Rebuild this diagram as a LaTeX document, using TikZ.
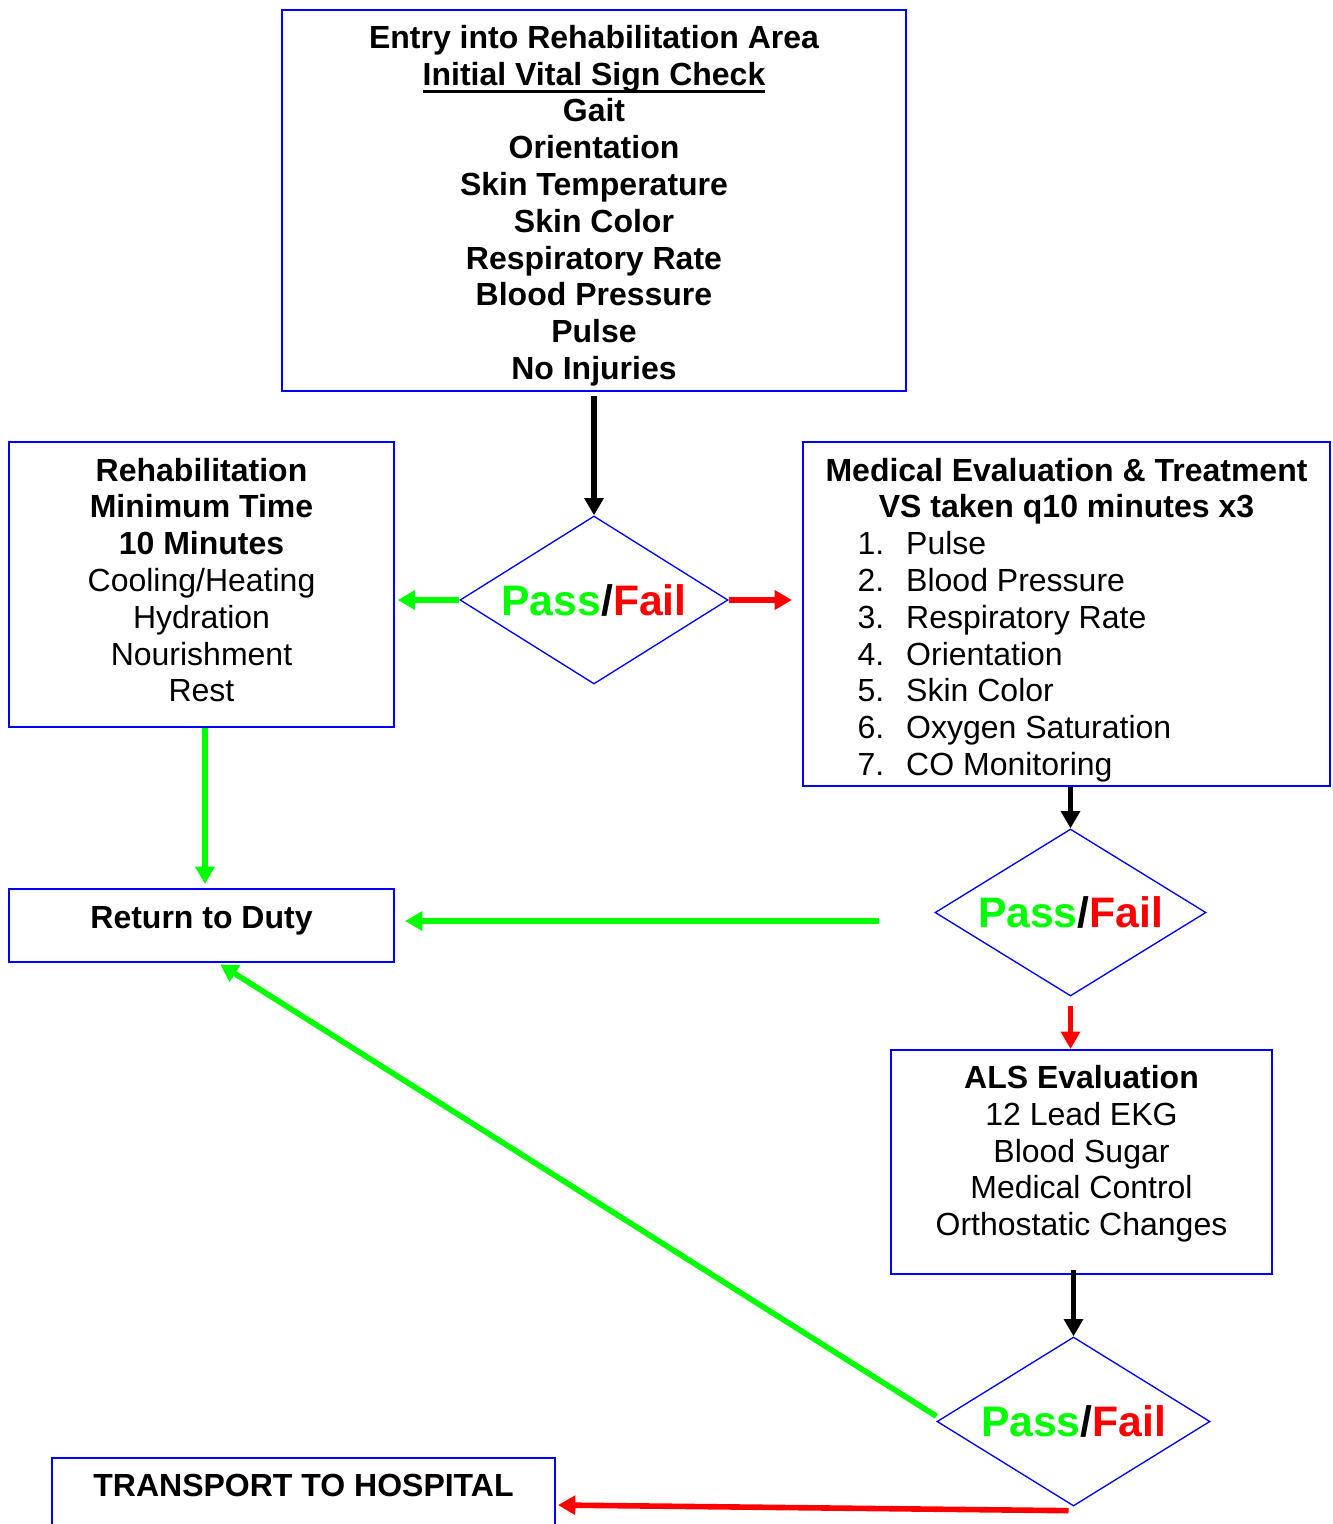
\documentclass[tikz,border=0pt]{standalone}
\usepackage{fontspec}
\setmainfont{Liberation Sans}
\usetikzlibrary{shapes.geometric,arrows.meta,calc}
\definecolor{pgreen}{RGB}{0,255,0}
\definecolor{pred}{RGB}{255,0,0}
\definecolor{pblue}{RGB}{0,0,255}
\newcommand\mylines[1]{\begin{tabular}{@{}c@{}}#1\end{tabular}}
\newcommand\myul[1]{\setbox0\hbox{#1}\rlap{\rule[-6pt]{\wd0}{1.9pt}}\box0}
\newcommand\passfail{{\color{pgreen}Pass}/{\color{pred}Fail}}
\begin{document}
\begin{tikzpicture}[x=0.75pt,y=-0.75pt,
  box/.style={draw=pblue, line width=1.5pt, rectangle, inner sep=0pt},
  dia/.style={draw=pblue, line width=1pt, diamond, aspect=1.6, inner sep=0pt,
    font=\fontsize{32}{36}\selectfont\bfseries},
  txt/.style={inner sep=0pt, anchor=north, font=\fontsize{24}{27.6}\selectfont},
  tipshape/.style={-{Triangle[width=14pt,length=13pt]}},
  kArrow/.style={draw=black, line width=4.2pt, tipshape},
  gArrow/.style={draw=pgreen, line width=4.2pt, tipshape},
  rArrow/.style={draw=pred, line width=4.2pt, tipshape}]
\useasboundingbox (0,0) rectangle (1333,1524);

% boxes
\node[box, minimum width=468pt, minimum height=285.75pt] (top) at (594,200.5) {};
\node[box, minimum width=288.75pt, minimum height=213.75pt] (rehab) at (201.5,584.5) {};
\node[box, minimum width=395.25pt, minimum height=258pt] (med) at (1066.5,614) {};
\node[box, minimum width=288.75pt, minimum height=54.75pt] (ret) at (201.5,925.5) {};
\node[box, minimum width=285.75pt, minimum height=168pt] (als) at (1081.5,1162) {};
\node[box, minimum width=377.25pt, minimum height=70.5pt] (tr) at (303.5,1505) {};

% diamonds
\node[dia, minimum width=201pt, minimum height=126pt] (d1) at (594,600) {\passfail};
\node[dia, minimum width=203.25pt, minimum height=125.25pt] (d2) at (1070.5,912.5) {\passfail};
\node[dia, minimum width=204.75pt, minimum height=126.75pt] (d3) at (1073.5,1421.5) {\passfail};

% texts
\node[txt] (topT) at (594,22.2) {\bfseries\mylines{Entry into Rehabilitation Area\\
  \myul{Initial Vital Sign Check}\\ Gait\\ Orientation\\ Skin Temperature\\ Skin Color\\
  Respiratory Rate\\ Blood Pressure\\ Pulse\\ No Injuries}};
\node[txt] (rehabT) at (201.5,455) {\mylines{\textbf{Rehabilitation}\\ \textbf{Minimum Time}\\
  \textbf{10 Minutes}\\ Cooling/Heating\\ Hydration\\ Nourishment\\ Rest}};
\node[txt] (medT) at (1066.5,455) {\begin{tabular}{@{\hspace{24pt}}r@{\hspace{16.5pt}}l@{}}
  \multicolumn{2}{@{}c@{}}{\bfseries Medical Evaluation \& Treatment}\\
  \multicolumn{2}{@{}c@{}}{\bfseries VS taken q10 minutes x3}\\
  1. & Pulse\\ 2. & Blood Pressure\\ 3. & Respiratory Rate\\ 4. & Orientation\\
  5. & Skin Color\\ 6. & Oxygen Saturation\\ 7. & CO Monitoring
  \end{tabular}};
\node[txt] (retT) at (201.5,902.7) {\bfseries\mylines{Return to Duty}};
\node[txt] (alsT) at (1081.5,1062.5) {\mylines{\textbf{ALS Evaluation}\\ 12 Lead EKG\\
  Blood Sugar\\ Medical Control\\ Orthostatic Changes}};
\node[txt] (trT) at (303.5,1470.7) {\bfseries\mylines{TRANSPORT TO HOSPITAL}};

% connectors
\draw[kArrow, shorten <=3pt] (top.south) -- (d1.north);
\draw[gArrow, shorten >=2pt] (d1.west) -- (d1.west -| rehab.east);
\draw[rArrow, shorten >=7.5pt] (d1.east) -- (d1.east -| med.west);
\draw[kArrow] (d2.north |- med.south) -- (d2.north);
\draw[gArrow, shorten >=3pt] ([xshift=2.6pt]rehab.south) -- ([xshift=2.6pt]ret.north);
\coordinate (g2s) at ([shift={(-55,8.5)}]d2.west);
\draw[gArrow, shorten >=7.5pt] (g2s) -- (g2s -| ret.east);
\draw[rArrow, shorten <=6.75pt] (d2.south) -- (d2.south |- als.north);
\draw[kArrow, shorten <=-4pt] (d3.north |- als.south) -- (d3.north);
\draw[gArrow, shorten >=2pt] ([yshift=4pt]d3.west) -- ([xshift=12.4pt]ret.south);
\draw[rArrow, shorten >=1.5pt] ([shift={(-5,4)}]d3.south) -- (tr.east);
\end{tikzpicture}
\end{document}
